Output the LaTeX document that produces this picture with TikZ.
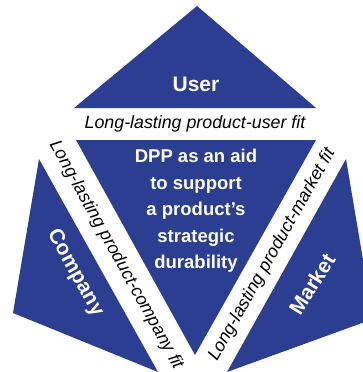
\documentclass[tikz,border=0pt]{standalone}
\usepackage{fontspec}
\setmainfont{Liberation Sans}
\definecolor{dppblue}{RGB}{43,62,145}
\tikzset{
  piece/.style={fill=dppblue},
  part/.style={text=white, font=\bfseries\fontsize{21}{21}\selectfont},
  fitlabel/.style={font=\itshape\fontsize{17.8}{17.8}\selectfont}
}
\begin{document}
\begin{tikzpicture}[x=1pt,y=-1pt]
\useasboundingbox (0,0) rectangle (363,372);
\clip (0,0) rectangle (363,372);

\fill[piece] (197,6) -- (316,108) -- (74,108) -- cycle;
\fill[piece] (76,140) -- (316,140) -- (195,355) -- cycle;
\fill[piece] (39,159) -- (158,372) -- (13,313) -- cycle;
\fill[piece] (346,159) -- (373,319) -- (227,372) -- cycle;

\node[part] (user) at (196,84) {User};
\node[part, rotate=-61] (company) at (75,273) {Company};
\node[part, rotate=58] (market) at (312,284) {Market};
\node[text=white, align=center, font=\bfseries\fontsize{18.5}{26.5}\selectfont] (dpp) at (196,211)
  {DPP as an aid\\to support\\a product’s\\strategic\\durability};

\node[fitlabel] (userfit) at (195,124) {Long-lasting product-user fit};
\node[fitlabel, rotate=-61] (companyfit) at (116,255) {Long-lasting product-company fit};
\node[fitlabel, rotate=60.6] (marketfit) at (272,255) {Long-lasting product-market fit};
\end{tikzpicture}
\end{document}
